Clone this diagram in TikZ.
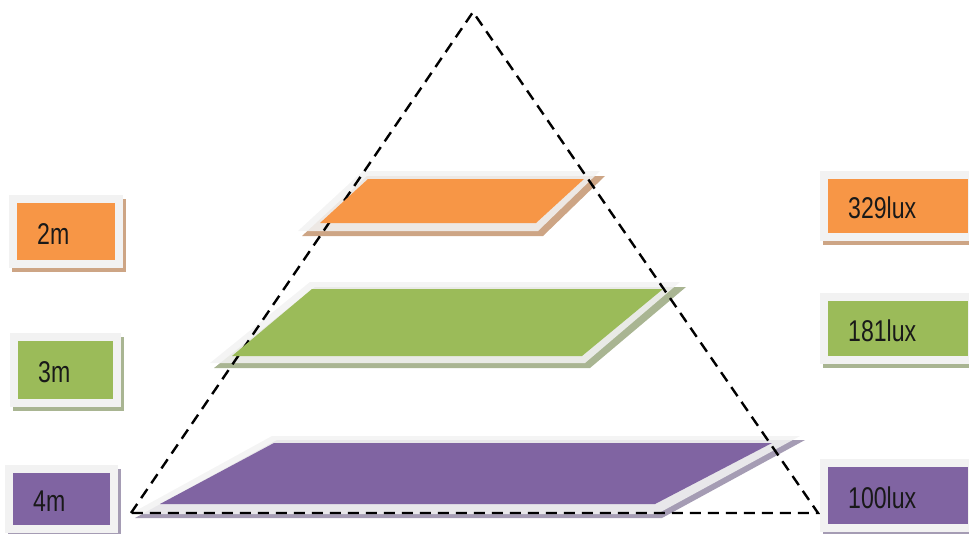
\documentclass[tikz,border=0pt]{standalone}
\usepackage{fontspec}
\newfontfamily\labelfont[FakeStretch=0.77]{Liberation Sans}
\definecolor{porange}{HTML}{F79646}
\definecolor{pgreen}{HTML}{9BBB59}
\definecolor{ppurple}{HTML}{8064A2}
\definecolor{sorange}{HTML}{CDA585}
\definecolor{sgreen}{HTML}{A9B592}
\definecolor{spurple}{HTML}{A59CB4}
\definecolor{framegray}{HTML}{F2F2F2}
\tikzset{
  facebox/.style={rectangle, inner sep=0pt, draw=none},
  lbltext/.style={inner sep=0pt, font=\labelfont\fontsize{30}{32}\selectfont, text=black!90},
  pyr/.style={draw=black, line width=2.4pt, dash pattern=on 11pt off 7pt},
  frameband/.style={fill=framegray, fill opacity=0.88},
}
\newcommand\lbox[8]{%
  \fill[#7] (#2-5,#3-4) rectangle ++(#4+16,#5+16);
  \fill[framegray] (#2-8,#3-8) rectangle ++(#4+16,#5+16);
  \node[facebox, fill=#6, minimum width=#4pt, minimum height=#5pt, anchor=north west] (#1) at (#2,#3) {};
  \node[lbltext, anchor=west] (#1t) at ([xshift=20pt, yshift=-2pt]#1.west) {#8};
}
\begin{document}
\begin{tikzpicture}[x=1pt,y=-1pt]
\useasboundingbox (0,0) rectangle (969,533);
\clip (0,0) rectangle (969,533);

% pyramid corners
\coordinate (apex) at (473,12);
\coordinate (bl) at (131,513);
\coordinate (br) at (818,513);

% shadows and frames of the layers
\fill[sorange] (367,176) -- (605,176) -- (543,236) -- (302,236) -- cycle;
\fill[frameband] (363,171) -- (600,171) -- (538,231) -- (298,231) -- cycle;
\fill[sgreen] (315,287) -- (686,287) -- (590,368) -- (214,368) -- cycle;
\fill[frameband] (310,282) -- (680,282) -- (585,363) -- (210,363) -- cycle;
\fill[spurple] (277,440) -- (805,440) -- (662,518) -- (135,518) -- cycle;
\fill[frameband] (272,436) -- (800,436) -- (657,514) -- (130,514) -- cycle;

% dashed pyramid
\draw[pyr] (bl) -- (apex) -- (br) -- cycle;

% layer faces
\fill[porange] (368,179) -- (584,179) -- (536,223) -- (320,223) -- cycle;
\fill[pgreen] (312,289) -- (663,289) -- (582,356) -- (232,356) -- cycle;
\fill[ppurple] (274,443) -- (772,443) -- (655,504) -- (160,504) -- cycle;

% left labels
\lbox{l2}{17}{203}{98}{57}{porange}{sorange}{2m}
\lbox{l3}{18}{341}{95}{58}{pgreen}{sgreen}{3m}
\lbox{l4}{13}{473}{97}{52}{ppurple}{spurple}{4m}

% right labels
\lbox{r1}{828}{179}{140}{54}{porange}{sorange}{329lux}
\lbox{r2}{828}{301}{140}{55}{pgreen}{sgreen}{181lux}
\lbox{r3}{828}{467}{140}{57}{ppurple}{spurple}{100lux}
\end{tikzpicture}
\end{document}
